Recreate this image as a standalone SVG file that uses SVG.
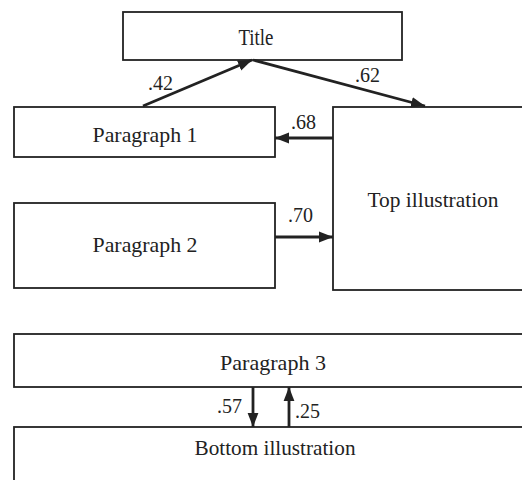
<svg xmlns="http://www.w3.org/2000/svg" width="522" height="480" viewBox="0 0 522 480">
<style>
.box{fill:#fff;stroke:#222;stroke-width:1.8}
.t{font-family:"Liberation Serif","Times New Roman",serif;font-size:22px;fill:#222;text-anchor:middle;white-space:pre}
.l{font-family:"Liberation Serif","Times New Roman",serif;font-size:20px;fill:#222}
.c{stroke:#222;stroke-width:2.8;fill:none;marker-end:url(#ah)}
</style>
<defs>
<marker id="ah" markerUnits="userSpaceOnUse" markerWidth="14" markerHeight="12" refX="13" refY="5" orient="auto" viewBox="0 0 13 10">
<path d="M0,0 L13,5 L0,10 Z" fill="#222"/>
</marker>
</defs>
<rect width="522" height="480" fill="#fff"/>
<g id="title"><rect class="box" x="123" y="12" width="279" height="48"/><text class="t" x="256" y="45" style="font-size:24px" textLength="35" lengthAdjust="spacingAndGlyphs">Title</text></g>
<g id="paragraph1"><rect class="box" x="14" y="107" width="261" height="50"/><text class="t" x="145" y="142" textLength="105" lengthAdjust="spacingAndGlyphs">Paragraph 1</text></g>
<g id="topillustration"><rect class="box" x="333" y="107" width="200" height="183"/><text class="t" x="433" y="207" textLength="131" lengthAdjust="spacingAndGlyphs">Top illustration</text></g>
<g id="paragraph2"><rect class="box" x="14" y="203" width="261" height="85"/><text class="t" x="145" y="252" textLength="105" lengthAdjust="spacingAndGlyphs">Paragraph 2</text></g>
<g id="paragraph3"><rect class="box" x="14" y="334" width="520" height="53"/><text class="t" x="273" y="370" textLength="106" lengthAdjust="spacingAndGlyphs">Paragraph 3</text></g>
<g id="bottomillustration"><rect class="box" x="14" y="427" width="520" height="70"/><text class="t" x="275" y="455" textLength="161" lengthAdjust="spacingAndGlyphs">Bottom illustration</text></g>
<g id="connectors">
<line class="c" x1="143" y1="106" x2="252" y2="60"/>
<line class="c" x1="253" y1="60" x2="425" y2="106"/>
<line class="c" x1="333" y1="138" x2="275" y2="138"/>
<line class="c" x1="275" y1="237" x2="333" y2="237"/>
<line class="c" x1="253" y1="387" x2="253" y2="427"/>
<line class="c" x1="289" y1="427" x2="289" y2="387"/>
<text class="l" x="148" y="90">.42</text>
<text class="l" x="355" y="82">.62</text>
<text class="l" x="291" y="129">.68</text>
<text class="l" x="288" y="222">.70</text>
<text class="l" x="217" y="413">.57</text>
<text class="l" x="295" y="418">.25</text>
</g>
</svg>
